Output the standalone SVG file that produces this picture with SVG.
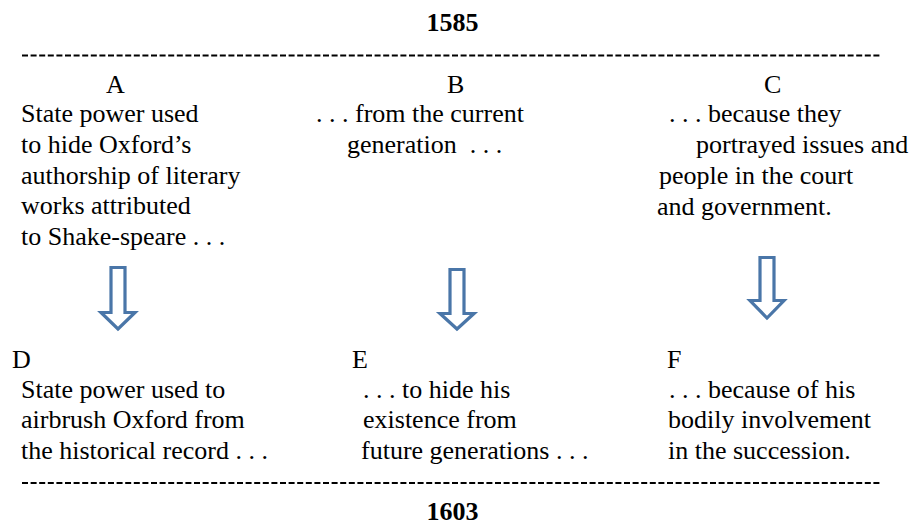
<svg xmlns="http://www.w3.org/2000/svg" width="916" height="525" viewBox="0 0 916 525">
<style>
  text { font-size: 26px; fill: #000; white-space: pre; }
  .yr { font-weight: bold; text-anchor: middle; }
  .dash { stroke: #000; stroke-width: 2.2; stroke-dasharray: 6 2.6; fill: none; }
  .arrow { fill: #fff; stroke: #4a76a8; stroke-width: 3.2; stroke-linejoin: miter; }
</style>
<rect width="916" height="525" fill="#fff"/>
<g font-family="'Times New Roman', 'Liberation Serif', Tinos, 'DejaVu Serif', serif">
<g id="year-1585"><text class="yr" x="452.5" y="31">1585</text></g>
<g id="node-A">
  <text x="106" y="93">A</text>
  <text x="21" y="122">State power used</text>
  <text x="21" y="153">to hide Oxford’s</text>
  <text x="21" y="184">authorship of literary</text>
  <text x="21" y="214">works attributed</text>
  <text x="21" y="245">to Shake-speare . . .</text>
</g>
<g id="node-B">
  <text x="447" y="93">B</text>
  <text x="316" y="122">. . . from the current</text>
  <text x="347" y="153">generation  . . .</text>
</g>
<g id="node-C">
  <text x="764" y="93">C</text>
  <text x="669" y="122">. . . because they</text>
  <text x="696" y="153">portrayed issues and</text>
  <text x="659" y="184">people in the court</text>
  <text x="657" y="215">and government.</text>
</g>
<g id="node-D">
  <text x="12" y="368">D</text>
  <text x="21" y="398">State power used to</text>
  <text x="21" y="428">airbrush Oxford from</text>
  <text x="21" y="459">the historical record . . .</text>
</g>
<g id="node-E">
  <text x="352" y="368">E</text>
  <text x="363" y="398">. . . to hide his</text>
  <text x="363" y="428">existence from</text>
  <text x="361" y="459">future generations . . .</text>
</g>
<g id="node-F">
  <text x="667" y="368">F</text>
  <text x="669" y="398">. . . because of his</text>
  <text x="668" y="428">bodily involvement</text>
  <text x="668" y="459">in the succession.</text>
</g>
<g id="year-1603"><text class="yr" x="452.5" y="520">1603</text></g>
</g>
<line class="dash" x1="22" y1="55.5" x2="882" y2="55.5"/>
<line class="dash" x1="22" y1="483" x2="882" y2="483"/>
<g id="connectors">
  <path class="arrow" d="M111 267.5 H125 V312.5 H135 L118 329 L101 312.5 H111 Z"/>
  <path class="arrow" d="M450 269.5 H464 V313.5 H474 L457 329 L440 313.5 H450 Z"/>
  <path class="arrow" d="M760 257.5 H774 V300.5 H784 L767 318 L750 300.5 H760 Z"/>
</g>
</svg>
